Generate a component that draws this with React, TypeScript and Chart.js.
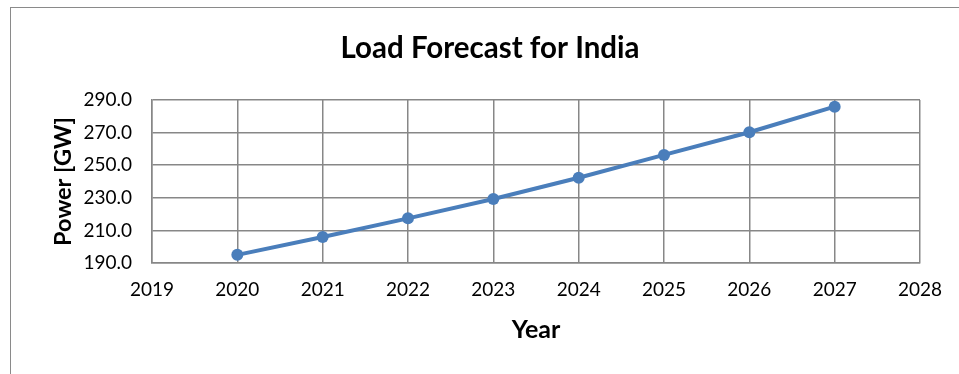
import React, { useEffect, useRef } from "react";
import { Chart, registerables } from "chart.js";

Chart.register(...registerables);

// Forecast peak load per year
const years = [2020, 2021, 2022, 2023, 2024, 2025, 2026, 2027];
const loadGW = [195.0, 206.0, 217.4, 229.3, 242.3, 256.3, 270.2, 285.9];

// Axis ranges
const xMin = 2019;
const xMax = 2028;
const yMin = 190;
const yMax = 290;
const yStep = 20;

// Labels
const chartTitle = "Load Forecast for India";
const xTitle = "Year";
const yTitle = "Power [GW]";

const FONT = "Lato, 'Noto Sans', sans-serif";
const LINE_BLUE = "#4a7ebb";
const GRID_GRAY = "#878787";

export default function App() {
  const canvasRef = useRef<HTMLCanvasElement | null>(null);

  useEffect(() => {
    const canvas = canvasRef.current;
    if (!canvas) return;
    const chart = new Chart(canvas, {
      type: "line",
      data: {
        datasets: [
          {
            label: "Load",
            data: years.map((y, i) => ({ x: y, y: loadGW[i] })),
            borderColor: LINE_BLUE,
            backgroundColor: LINE_BLUE,
            borderWidth: 4,
            pointRadius: 6,
            pointBorderWidth: 0,
            pointBackgroundColor: LINE_BLUE,
            tension: 0,
          },
        ],
      },
      options: {
        responsive: false,
        animation: false,
        // the left inset shifts the centred title to the frame's middle
        layout: { padding: { left: 60, right: 39, top: 0, bottom: 0 } },
        plugins: {
          legend: { display: false },
          tooltip: { enabled: false },
          title: {
            display: true,
            text: chartTitle,
            color: "#000",
            font: { family: FONT, size: 29.5, weight: "bold" },
            padding: { top: 30.3, bottom: 34.3 },
          },
        },
        scales: {
          x: {
            type: "linear",
            min: xMin,
            max: xMax,
            afterFit: (scale: any) => {
              scale.height = 111;
            },
            ticks: {
              stepSize: 1,
              color: "#000",
              padding: 15,
              maxRotation: 0,
              font: { family: FONT, size: 19 },
              callback: (v: any) => String(v),
            },
            grid: { color: GRID_GRAY, lineWidth: 1.5, drawTicks: false },
            border: { color: GRID_GRAY, width: 1.5 },
            title: {
              display: true,
              text: xTitle,
              color: "#000",
              font: { family: FONT, size: 25, weight: "bold" },
              padding: { top: 0, bottom: 29.5 },
            },
          },
          y: {
            min: yMin,
            max: yMax,
            afterFit: (scale: any) => {
              scale.width = 92;
            },
            ticks: {
              stepSize: yStep,
              color: "#000",
              padding: 20,
              font: { family: FONT, size: 19 },
              callback: (v: any) => Number(v).toFixed(1),
            },
            grid: { color: GRID_GRAY, lineWidth: 1.5, drawTicks: false },
            border: { color: GRID_GRAY, width: 1.5 },
            title: {
              display: true,
              text: yTitle,
              color: "#000",
              font: { family: FONT, size: 23.5, weight: "bold" },
              padding: { top: -11, bottom: 0 },
            },
          },
        },
      },
    });
    return () => chart.destroy();
  }, []);

  return (
    <div
      style={{
        position: "fixed",
        left: 0,
        top: 0,
        width: 959,
        height: 374,
        overflow: "hidden",
        background: "#fff",
      }}
    >
      <div
        style={{
          position: "absolute",
          left: 10,
          top: 7,
          width: 1000,
          height: 500,
          border: "1.5px solid #8a8a8a",
          boxSizing: "border-box",
        }}
      />
      <canvas
        ref={canvasRef}
        width={959}
        height={374}
        style={{ position: "absolute", left: 0, top: 0, width: 959, height: 374 }}
      />
    </div>
  );
}
